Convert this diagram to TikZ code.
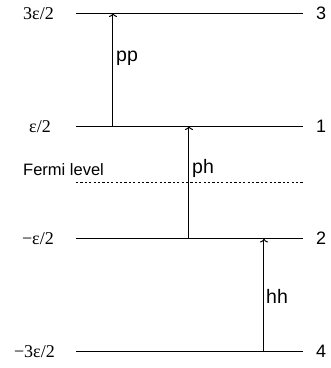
\documentclass[tikz,border=0pt]{standalone}
\usepackage{fontspec}
\setmainfont{Liberation Serif}
\setsansfont{Liberation Sans}
\usetikzlibrary{arrows.meta}
\begin{document}
\begin{tikzpicture}[x=1pt,y=-1pt,
  level/.style={line width=1pt},
  fermi/.style={line width=0.8pt,dash pattern=on 2.2pt off 2.2pt},
  trans/.style={line width=1pt,-{To[length=4pt,width=8pt]}},
  energy/.style={anchor=base east,inner sep=0pt,font=\fontsize{18}{18}\selectfont},
  index/.style={anchor=base west,inner sep=0pt,font=\sffamily\fontsize{18}{18}\selectfont},
  tlabel/.style={anchor=base west,inner sep=0pt,font=\sffamily\fontsize{19.5}{19.5}\selectfont},
  small/.style={anchor=base west,inner sep=0pt,font=\sffamily\fontsize{16.5}{16.5}\selectfont}]
\useasboundingbox (0,0) rectangle (331,368);

% energy levels
\coordinate (l3a) at (76,13);   \coordinate (l3b) at (303,13);
\coordinate (l1a) at (76,126);  \coordinate (l1b) at (303,126);
\coordinate (l2a) at (76,238.5);\coordinate (l2b) at (303,238.5);
\coordinate (l4a) at (76,351);  \coordinate (l4b) at (303,351);
\coordinate (fa) at (76,182);   \coordinate (fb) at (303,182);

\draw[level] (l3a) -- (l3b);
\draw[level] (l1a) -- (l1b);
\draw[level] (l2a) -- (l2b);
\draw[level] (l4a) -- (l4b);
\draw[fermi] (fa) -- (fb);

% energy values on the left
\node[energy] (e3) at (54,19) {3ε/2};
\node[energy] (e1) at (51,132) {ε/2};
\node[energy] (e2) at (54,244.5) {−ε/2};
\node[energy] (e4) at (55,357) {−3ε/2};

% level indices on the right
\node[index] (n3) at (316,19) {3};
\node[index] (n1) at (316,132) {1};
\node[index] (n2) at (316,244.5) {2};
\node[index] (n4) at (316,357) {4};

\node[small] (fl) at (23,175) {Fermi level};

% transitions
\coordinate (pp0) at (113,126); \coordinate (pp1) at (113,13);
\coordinate (ph0) at (189,238.5); \coordinate (ph1) at (189,126);
\coordinate (hh0) at (264,351); \coordinate (hh1) at (264,238.5);
\draw[trans] (pp0) -- (pp1);
\draw[trans] (ph0) -- (ph1);
\draw[trans] (hh0) -- (hh1);

\node[tlabel] (lpp) at (116,61) {pp};
\node[tlabel] (lph) at (192,173) {ph};
\node[tlabel] (lhh) at (266,303) {hh};
\end{tikzpicture}
\end{document}
